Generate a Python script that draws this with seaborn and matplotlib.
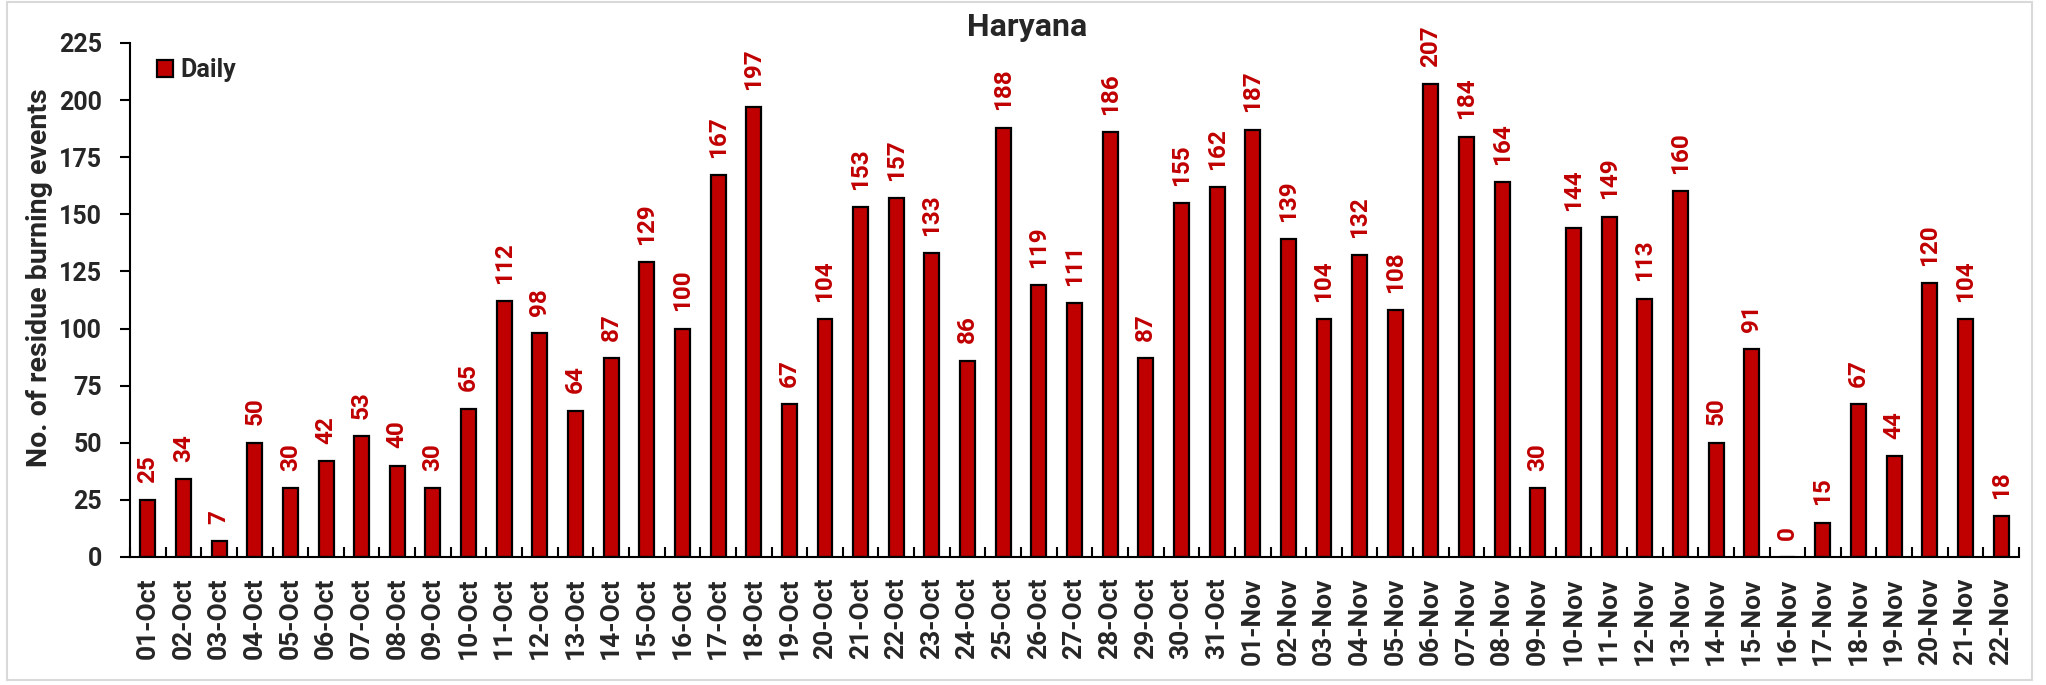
import numpy as np
import pandas as pd
import matplotlib
matplotlib.use("Agg")
import matplotlib.pyplot as plt
import seaborn as sns
from matplotlib.patches import Rectangle

dates = [f"{d:02d}-Oct" for d in range(1, 32)] + [f"{d:02d}-Nov" for d in range(1, 23)]
daily = [25, 34, 7, 50, 30, 42, 53, 40, 30, 65,
         112, 98, 64, 87, 129, 100, 167, 197, 67, 104,
         153, 157, 133, 86, 188, 119, 111, 186, 87, 155, 162,
         187, 139, 104, 132, 108, 207, 184, 164, 30, 144,
         149, 113, 160, 50, 91, 0, 15, 67, 44, 120,
         104, 18]
yticks = [0, 25, 50, 75, 100, 125, 150, 175, 200, 225]

sns.set_theme(style="white")
plt.rcParams['font.family'] = ['Roboto', 'DejaVu Sans']
plt.rcParams['font.weight'] = 'bold'

df = pd.DataFrame({"date": dates, "Daily": daily})

fig = plt.figure(figsize=(20.46, 6.85), dpi=100)
ax = fig.add_axes([130/2046, 1-557/685, (2019-130)/2046, (557-43)/685])

sns.barplot(data=df, x="date", y="Daily", color="#C00000", edgecolor="black",
            linewidth=1.6, width=0.42, saturation=1, ax=ax, label="Daily")

for i, v in enumerate(daily):
    ax.annotate(str(v), (i, v), xytext=(0, 12.5), textcoords="offset points",
                rotation=90, ha="center", va="bottom", color="#C00000",
                fontsize=17.5, fontweight="bold")

ax.set_xlim(-0.5, len(dates) - 0.5)
ax.set_ylim(0, 225)
ax.set_yticks(yticks)
ax.set_yticklabels([str(t) for t in yticks], fontsize=18, fontweight="bold")
ax.set_xticks(range(len(dates)))
ax.set_xticklabels(dates, rotation=90, fontsize=19, fontweight="bold")
ax.set_xticks(np.arange(-0.5, len(dates), 1), minor=True)
ax.tick_params(axis="x", which="major", length=0, pad=14.5)
ax.tick_params(axis="x", which="minor", direction="in", length=7, width=1.5, color="black", bottom=True)
ax.tick_params(axis="y", which="major", direction="out", length=7, width=1.5, color="black", left=True, pad=13)
ax.set_xlabel("")
ax.set_ylabel("No. of residue burning events", fontsize=20.5, fontweight="bold")
ax.yaxis.set_label_coords(-(130 - 53) / 1889, 0.544)

for s in ["top", "right"]:
    ax.spines[s].set_visible(False)
for s in ["left", "bottom"]:
    ax.spines[s].set_color("black")
    ax.spines[s].set_linewidth(1.5)

leg = ax.legend(loc="center left", bbox_to_anchor=((157 - 130) / 1889, 0.947), frameon=False,
                borderaxespad=0, borderpad=0,
                prop={"size": 18, "weight": "bold"}, handlelength=0.64, handleheight=0.64,
                handletextpad=0.3)

fig.text(1027/2046, 1-27/685, "Haryana", ha="center", va="center", fontsize=23, fontweight="bold")

fig.patches.append(Rectangle((7/2046, 5/685), (2032-7)/2046, (683-5)/685,
                             transform=fig.transFigure, fill=False,
                             edgecolor="#D9D9D9", linewidth=1.5))

fig.savefig("out.png", dpi=100)
